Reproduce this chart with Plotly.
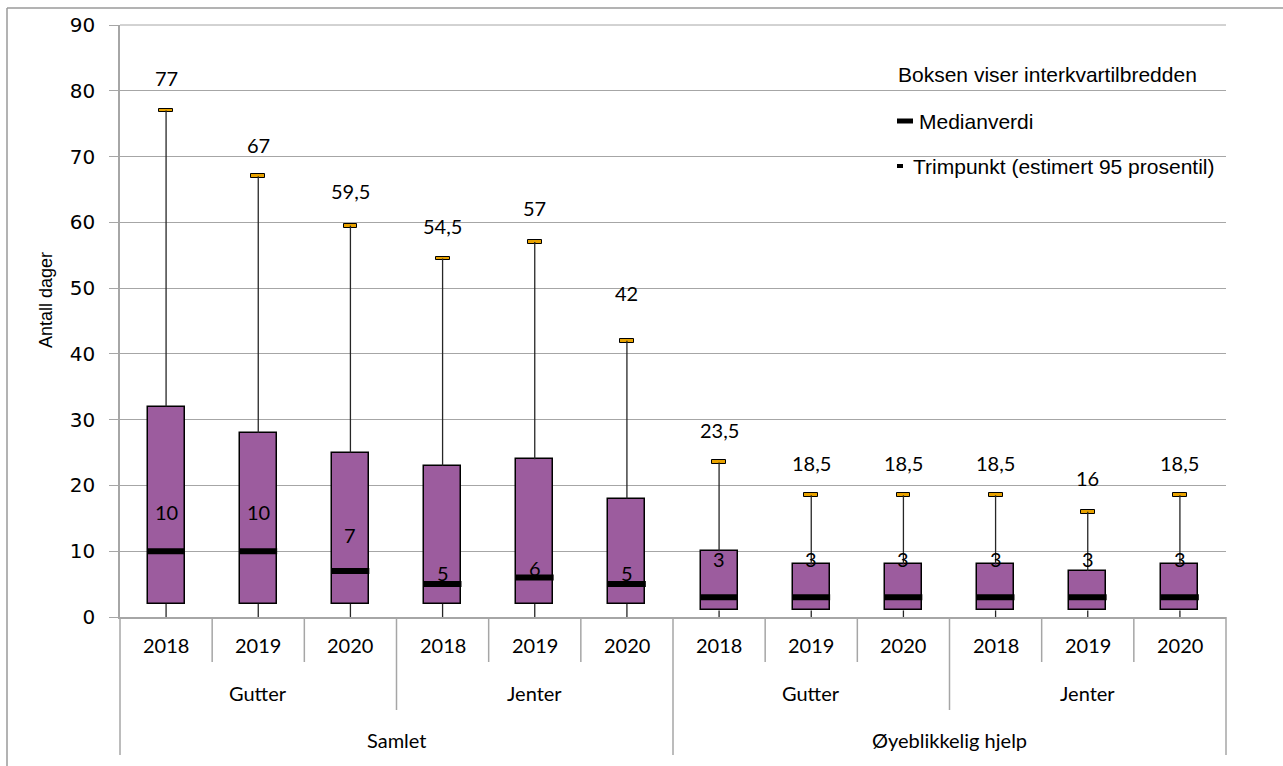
import plotly.graph_objects as go

# Data
years = ["2018", "2019", "2020"] * 4
groups = ["Gutter", "Jenter", "Gutter", "Jenter"]
sections = ["Samlet", "Øyeblikkelig hjelp"]

low = [0, 0, 0, 0, 0, 0, 0, 0, 0, 0, 0, 0]
q1 = [2, 2, 2, 2, 2, 2, 1, 1, 1, 1, 1, 1]
median = [10, 10, 7, 5, 6, 5, 3, 3, 3, 3, 3, 3]
q3 = [32, 28, 25, 23, 24, 18, 10, 8, 8, 8, 7, 8]
trim = [77, 67, 59.5, 54.5, 57, 42, 23.5, 18.5, 18.5, 18.5, 16, 18.5]

# label placement (data units for median labels, pixel shift for trim labels)
median_label_at = [16, 16, 12.5, 6.7, 7.4, 6.7, 8.8, 8.8, 8.8, 8.8, 8.8, 8.8]
trim_label_shift = [33, 31, 35, 33, 34, 48, 32, 32, 32, 32, 34, 32]

W, H = 1283, 766
L, R, T, B = 120, 1226, 25, 617
n = len(years)
xs = list(range(n))

purple = "#9C5C9E"
gold = "#E8A200"
grid = "#A6A6A6"
line_col = "#A6A6A6"


def px(x):
    return (x - L) / (R - L)


def py(y):
    return (B - y) / (B - T)


def cx(i):
    # category index -> paper x
    return (i + 0.5) / n


fig = go.Figure()

# whiskers
wx, wy = [], []
for i in xs:
    wx += [i, i, None, i, i, None]
    wy += [low[i], q1[i], None, q3[i], trim[i], None]
fig.add_trace(go.Scatter(x=wx, y=wy, mode="lines", line=dict(color="#262626", width=1.3),
                         hoverinfo="skip", showlegend=False))

# boxes (interquartile range)
fig.add_trace(go.Bar(x=xs, y=[b - a for a, b in zip(q1, q3)], base=q1, width=0.4,
                     marker=dict(color=purple, line=dict(color="black", width=1.5)),
                     showlegend=False, hoverinfo="skip"))

# trim point caps
fig.add_trace(go.Bar(x=xs, y=[0.6] * n, base=[t - 0.3 for t in trim], width=0.15,
                     marker=dict(color=gold, line=dict(color="black", width=1)),
                     showlegend=False, hoverinfo="skip"))

# medians
fig.add_trace(go.Scatter(x=xs, y=median, mode="markers",
                         marker=dict(symbol="line-ew", size=27, line=dict(color="black", width=6)),
                         showlegend=False, hoverinfo="skip"))

lab_font = dict(family="Lato, Open Sans, sans-serif", size=20, color="black")
for i in xs:
    fig.add_annotation(x=i, y=trim[i], text=str(trim[i]).replace(".", ","), showarrow=False,
                       xanchor="center", yanchor="middle", yshift=trim_label_shift[i], font=lab_font)
    fig.add_annotation(x=i, y=median_label_at[i], text=str(median[i]), showarrow=False,
                       xanchor="center", yanchor="middle", font=lab_font)

# top gridline at 90
fig.add_shape(type="line", xref="paper", yref="paper", x0=0, x1=1, y0=1, y1=1,
              line=dict(color=grid, width=1))

# category table below the axis
cat_font = dict(family="Lato, Open Sans, sans-serif", size=20, color="black")
for i in range(n + 1):
    x = i / n
    if i % 6 == 0:
        y1 = py(755)
    elif i % 3 == 0:
        y1 = py(710)
    else:
        y1 = py(662)
    fig.add_shape(type="line", xref="paper", yref="paper", x0=x, x1=x, y0=0, y1=y1,
                  line=dict(color=line_col, width=1.5))

for i in xs:
    fig.add_annotation(xref="paper", yref="paper", x=cx(i), y=py(645), text=years[i],
                       xanchor="center", yanchor="middle", showarrow=False, font=cat_font)
for g, name in enumerate(groups):
    fig.add_annotation(xref="paper", yref="paper", x=(g * 3 + 1.5) / n, y=py(693), text=name,
                       xanchor="center", yanchor="middle", showarrow=False, font=cat_font)
for s, name in enumerate(sections):
    fig.add_annotation(xref="paper", yref="paper", x=(s * 6 + 3) / n, y=py(740), text=name,
                       xanchor="center", yanchor="middle", showarrow=False, font=cat_font)

# legend block (white panel over the grid)
fig.add_shape(type="rect", xref="paper", yref="paper", x0=px(877), x1=px(1226), y0=py(200), y1=py(45),
              fillcolor="white", line=dict(width=0), layer="below")
leg_font = dict(family="Liberation Sans, Arial, sans-serif", size=21, color="black")
fig.add_annotation(xref="paper", yref="paper", x=px(896), y=py(75), xanchor="left", yanchor="middle",
                   text="Boksen viser interkvartilbredden", showarrow=False, font=leg_font)
fig.add_shape(type="line", xref="paper", yref="paper", x0=px(897), x1=px(913), y0=py(121), y1=py(121),
              line=dict(color="black", width=5))
fig.add_annotation(xref="paper", yref="paper", x=px(917), y=py(121), xanchor="left", yanchor="middle",
                   text="Medianverdi", showarrow=False, font=leg_font)
fig.add_shape(type="line", xref="paper", yref="paper", x0=px(897), x1=px(903), y0=py(166), y1=py(166),
              line=dict(color="black", width=4))
fig.add_annotation(xref="paper", yref="paper", x=px(911), y=py(166), xanchor="left", yanchor="middle",
                   text="Trimpunkt (estimert 95 prosentil)", showarrow=False, font=leg_font)

# y axis title, sitting a little above the axis middle as in the original
fig.add_annotation(xref="paper", yref="paper", x=px(46), y=py(300), text="Antall dager",
                   textangle=-90, xanchor="center", yanchor="middle", showarrow=False,
                   font=dict(family="Liberation Sans Narrow, Liberation Sans, Arial", size=18,
                             color="black"))

# outer chart frame (left and top edges)
fig.add_shape(type="line", xref="paper", yref="paper", x0=px(7), x1=px(7), y0=py(8), y1=py(766),
              line=dict(color="#9A9A9A", width=1.5))
fig.add_shape(type="line", xref="paper", yref="paper", x0=px(7), x1=px(1283), y0=py(8), y1=py(8),
              line=dict(color="#9A9A9A", width=1.5))

fig.update_layout(
    width=W, height=H,
    margin=dict(l=L, r=W - R, t=T, b=H - B),
    paper_bgcolor="white", plot_bgcolor="white",
    barmode="overlay", bargap=0,
    xaxis=dict(range=[-0.5, n - 0.5], showgrid=False, zeroline=False, showticklabels=False,
               showline=True, linecolor=line_col, linewidth=1.5, ticks=""),
    yaxis=dict(range=[0, 90], dtick=10, showgrid=True, gridcolor=grid, gridwidth=1,
               zeroline=False, showline=True, linecolor=line_col, linewidth=1.5,
               ticks="outside", ticklen=9, tickcolor=line_col, ticklabelstandoff=10,
               tickfont=dict(family="DejaVu Sans, Verdana, sans-serif", size=20, color="black")),
)

fig.write_html("out.html", config={"displayModeBar": False},
               post_script="document.body.style.margin='0';")
